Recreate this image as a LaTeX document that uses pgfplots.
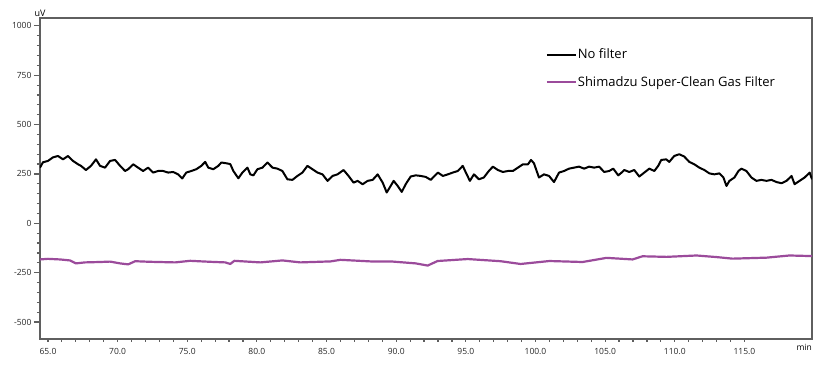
\documentclass[border=0pt]{standalone}
\usepackage{pgfplots}
\pgfplotsset{compat=1.18}
\usepackage{fontspec}
\setmainfont{Open Sans}
\definecolor{frame}{RGB}{95,95,95}
\definecolor{purp}{RGB}{155,75,155}
\begin{document}
\begin{tikzpicture}
\useasboundingbox (-40pt,-27pt) rectangle (781pt,339pt);
\begin{axis}[
  at={(0,0)}, anchor=south west,
  scale only axis, width=772pt, height=321pt,
  xmin=64.43, xmax=119.85, ymin=-586, ymax=1040,
  xtick={65,70,...,115}, minor x tick num=4,
  ytick={-500,-250,...,1000}, minor y tick num=4,
  xticklabel={\pgfmathprintnumber[fixed,fixed zerofill,precision=1]{\tick}},
  yticklabel={\pgfmathprintnumber[fixed,precision=0,1000 sep={}]{\tick}},
  /pgf/number format/assume math mode=true,
  tick align=outside, tick pos=left,
  major tick length=6pt, minor tick length=3pt,
  x tick style={/pgfplots/major tick length=3pt},
  axis line style={draw=frame, line width=1.4pt},
  every tick/.style={draw=frame, line width=1.2pt},
  ticklabel style={font=\fontsize{8.5}{10}\selectfont, text=black!85},
  xticklabel style={yshift=0pt},
  yticklabel style={xshift=1pt},
  legend style={at={(0.655,0.907)}, anchor=north west, draw=none, fill=none,
    font=\fontsize{13}{15}\selectfont, row sep=14pt, inner sep=0pt,
    nodes={inner sep=1pt}},
  legend cell align=left,
  legend image code/.code={\draw[#1, line width=2pt] (-2pt,0pt) -- (27pt,0pt);},
  clip mode=individual,
]
\addplot[black, line width=2pt, line join=round] coordinates {
(64.43,282) (64.64,309) (65.00,316) (65.36,334) (65.72,341) (66.08,324) (66.44,341) (66.80,316)
(67.16,299) (67.37,291) (67.73,270) (68.09,291) (68.45,324) (68.74,291) (69.10,282) (69.46,316)
(69.82,321) (70.18,291) (70.54,265) (70.76,274) (71.12,299) (71.47,282) (71.83,265) (72.19,282)
(72.55,257) (72.91,265) (73.27,265) (73.63,257) (73.99,260) (74.35,248) (74.64,227) (74.93,257)
(75.29,265) (75.65,274) (76.01,291) (76.29,311) (76.51,282) (76.87,274) (77.23,291) (77.45,308)
(77.81,304) (78.09,300) (78.31,265) (78.67,228) (78.96,257) (79.32,282) (79.53,248) (79.75,243)
(80.04,274) (80.40,282) (80.76,308) (81.12,282) (81.47,277) (81.83,265) (82.19,223) (82.55,220)
(82.91,240) (83.27,257) (83.63,291) (83.99,274) (84.35,257) (84.71,248) (85.07,215) (85.43,240)
(85.79,248) (86.22,270) (86.58,240) (86.94,206) (87.23,215) (87.59,198) (87.95,215) (88.31,220)
(88.67,248) (89.03,206) (89.32,156) (89.60,189) (89.82,215) (90.11,189) (90.40,159) (90.68,198)
(91.04,237) (91.40,243) (91.76,240) (92.12,235) (92.48,220) (92.99,257) (93.35,240) (93.71,248)
(94.06,257) (94.42,265) (94.78,291) (95.00,257) (95.29,215) (95.58,248) (95.94,223) (96.29,232)
(96.65,265) (96.94,287) (97.30,270) (97.66,260) (98.02,265) (98.38,265) (98.74,282) (99.10,299)
(99.46,299) (99.68,321) (99.89,304) (100.25,232) (100.61,248) (100.97,240) (101.33,209) (101.69,257)
(102.05,265) (102.41,277) (102.77,282) (103.13,287) (103.49,277) (103.85,287) (104.21,282) (104.57,287)
(104.93,260) (105.29,265) (105.58,277) (105.94,243) (106.15,255) (106.37,270) (106.73,260) (107.09,270)
(107.45,237) (107.81,257) (108.17,277) (108.53,265) (108.81,291) (109.03,321) (109.39,324) (109.60,311)
(109.96,341) (110.32,350) (110.68,338) (111.04,311) (111.40,299) (111.76,282) (112.12,270) (112.48,253)
(112.84,248) (113.20,253) (113.49,232) (113.71,189) (113.92,215) (114.28,232) (114.57,265) (114.78,277)
(115.14,265) (115.50,232) (115.86,215) (116.22,220) (116.58,215) (116.94,220) (117.30,209) (117.66,203)
(118.02,215) (118.38,240) (118.60,198) (118.96,215) (119.32,232) (119.68,257) (119.85,223)
};
\addlegendentry{No filter}
\addplot[purp, line width=2.2pt, line join=round] coordinates {
(64.43,-183) (65.00,-180) (65.86,-183) (66.58,-188) (67.01,-203) (67.66,-198) (68.74,-196) (69.46,-194)
(70.18,-203) (70.76,-208) (71.26,-192) (72.34,-195) (74.13,-198) (75.21,-190) (76.65,-195) (77.73,-198)
(78.09,-206) (78.38,-190) (80.25,-198) (81.83,-188) (83.12,-198) (85.28,-193) (86.00,-185) (88.16,-193)
(89.60,-193) (91.40,-203) (92.26,-214) (92.97,-191) (95.13,-181) (97.50,-192) (98.93,-206) (101.00,-191)
(103.38,-196) (105.10,-175) (106.97,-183) (107.68,-167) (109.41,-170) (111.56,-163) (112.99,-171) (114.14,-179)
(116.58,-174) (118.23,-163) (119.85,-166)
};
\addlegendentry{Shimadzu Super-Clean Gas Filter}
\node[anchor=south, font=\fontsize{9}{10}\selectfont, inner sep=1pt] at (rel axis cs:0,1) {uV};
\node[anchor=north east, font=\fontsize{8.5}{10}\selectfont, inner sep=0pt, yshift=-5pt] at (rel axis cs:1,0) {min};
\end{axis}
\end{tikzpicture}
\end{document}
